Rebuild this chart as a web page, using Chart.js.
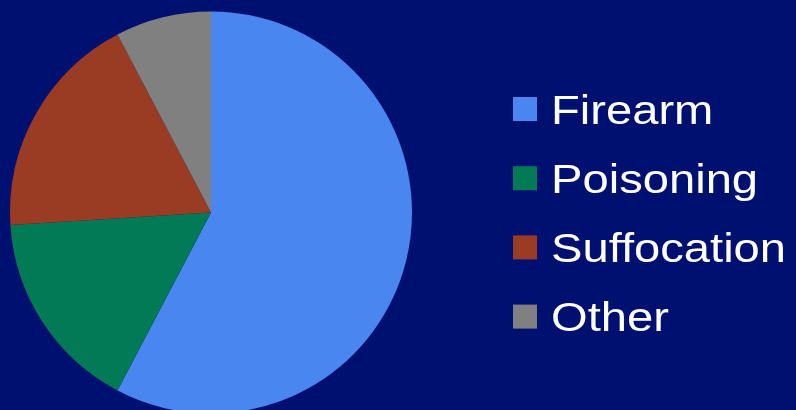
<!DOCTYPE html>
<html><head><meta charset="utf-8">
<script src="https://cdn.jsdelivr.net/npm/chart.js@4"></script>
<style>html,body{margin:0;padding:0;background:#001070;overflow:hidden}#wrap{width:796px;height:410px;position:relative}</style>
</head><body><div id="wrap"><canvas id="c" width="796" height="410"></canvas></div>
<script>
const categories = ['Firearm', 'Poisoning', 'Suffocation', 'Other'];
const shares = [57.7, 16.3, 18.3, 7.7];
const colors = ['#4a86ef', '#017a55', '#9a3b24', '#808080'];
const bgColor = '#001070';

const bgPlugin = {
  id: 'bg',
  beforeDraw(chart) {
    const ctx = chart.ctx;
    ctx.save();
    ctx.fillStyle = bgColor;
    ctx.fillRect(0, 0, chart.width, chart.height);
    ctx.restore();
  }
};

const sideLegend = {
  id: 'sideLegend',
  afterDraw(chart) {
    const ctx = chart.ctx;
    const boxX = 513, firstY = 109, step = 69.2, box = 24, textX = 551;
    ctx.save();
    ctx.font = '41px "Liberation Sans", Arial, sans-serif';
    ctx.textBaseline = 'alphabetic';
    chart.data.labels.forEach((lab, i) => {
      const cy = firstY + i * step;
      ctx.fillStyle = chart.data.datasets[0].backgroundColor[i];
      ctx.fillRect(boxX, cy - box / 2, box, box);
      ctx.save();
      ctx.translate(textX, cy + 14.7);
      ctx.scale(1.15, 1);
      ctx.fillStyle = '#ffffff';
      ctx.fillText(lab, 0, 0);
      ctx.restore();
    });
    ctx.restore();
  }
};

new Chart(document.getElementById('c'), {
  type: 'pie',
  data: {
    labels: categories,
    datasets: [{
      data: shares,
      backgroundColor: colors,
      borderWidth: 0
    }]
  },
  options: {
    responsive: false,
    animation: false,
    radius: 201,
    layout: { padding: { left: 10, top: 15, right: 384, bottom: 0 } },
    plugins: {
      legend: { display: false },
      tooltip: { enabled: false },
      title: { display: false }
    }
  },
  plugins: [bgPlugin, sideLegend]
});
</script>
</body></html>
